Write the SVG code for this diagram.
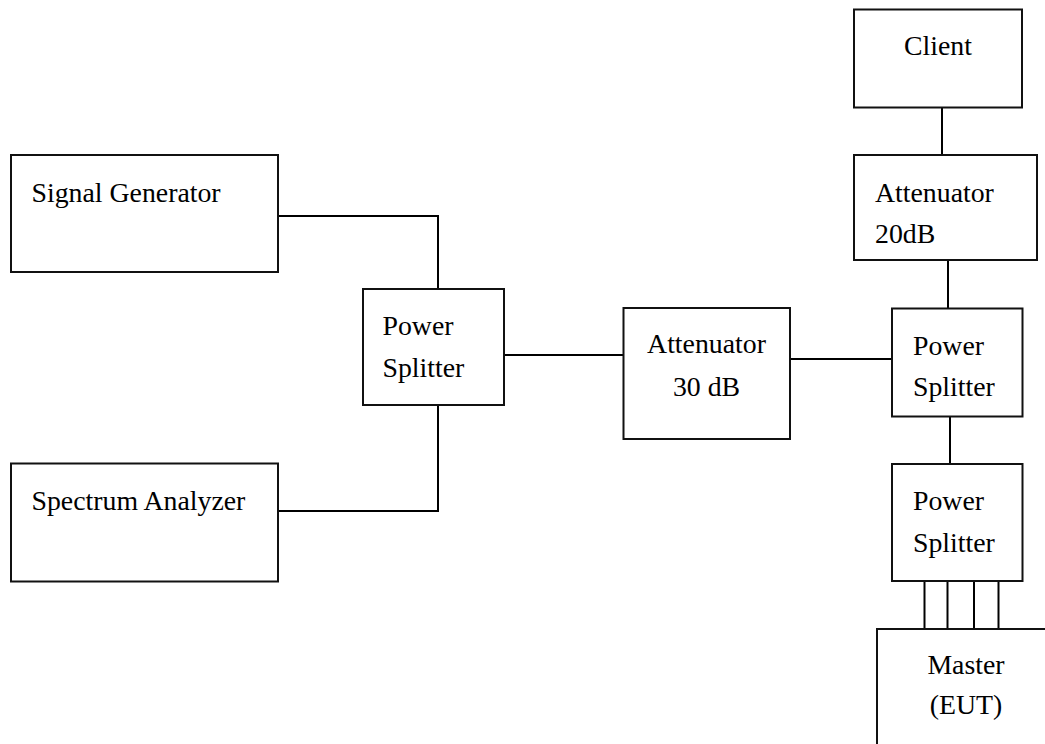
<svg xmlns="http://www.w3.org/2000/svg" width="1045" height="744" viewBox="0 0 1045 744">
<style>
.box{fill:#fff;stroke:#111;stroke-width:2}
.wire{fill:none;stroke:#000;stroke-width:2}
text{font-family:"Liberation Serif","Times New Roman",serif;font-size:27.8px;fill:#000}
.c{text-anchor:middle}
</style>
<rect width="1045" height="744" fill="#fff"/>
<g id="connectors">
<polyline class="wire" points="278,216 438,216 438,289"/>
<polyline class="wire" points="278,511 438,511 438,405"/>
<line class="wire" x1="504" y1="355" x2="623" y2="355"/>
<line class="wire" x1="790" y1="359" x2="892" y2="359"/>
<line class="wire" x1="942" y1="108" x2="942" y2="155"/>
<line class="wire" x1="948" y1="260" x2="948" y2="308"/>
<line class="wire" x1="950" y1="417" x2="950" y2="464"/>
<line class="wire" x1="924.5" y1="581" x2="924.5" y2="629"/>
<line class="wire" x1="947.5" y1="581" x2="947.5" y2="629"/>
<line class="wire" x1="974" y1="581" x2="974" y2="629"/>
<line class="wire" x1="998.5" y1="581" x2="998.5" y2="629"/>
</g>
<g id="signal-generator">
<rect class="box" x="11" y="155" width="267" height="117"/>
<text x="31.5" y="202">Signal Generator</text>
</g>
<g id="spectrum-analyzer">
<rect class="box" x="11" y="463.5" width="267" height="118"/>
<text x="31.5" y="509.5">Spectrum Analyzer</text>
</g>
<g id="power-splitter-1">
<rect class="box" x="363" y="289" width="141" height="116"/>
<text x="382.5" y="335">Power</text>
<text x="382.5" y="377">Splitter</text>
</g>
<g id="attenuator-30">
<rect class="box" x="623.5" y="308" width="166.5" height="131"/>
<text class="c" x="706.5" y="353">Attenuator</text>
<text class="c" x="706.5" y="396">30 dB</text>
</g>
<g id="client">
<rect class="box" x="854" y="9.5" width="168" height="98"/>
<text class="c" x="938" y="55">Client</text>
</g>
<g id="attenuator-20">
<rect class="box" x="854" y="155" width="183" height="105"/>
<text x="875" y="201.5">Attenuator</text>
<text x="875" y="242.5">20dB</text>
</g>
<g id="power-splitter-2">
<rect class="box" x="892" y="308.5" width="130.5" height="108"/>
<text x="913" y="355">Power</text>
<text x="913" y="396">Splitter</text>
</g>
<g id="power-splitter-3">
<rect class="box" x="892" y="464" width="130.5" height="117"/>
<text x="913" y="510">Power</text>
<text x="913" y="551.5">Splitter</text>
</g>
<g id="master">
<rect class="box" x="877" y="629" width="200" height="150"/>
<text class="c" x="966" y="673.5">Master</text>
<text class="c" x="966" y="714">(EUT)</text>
</g>
</svg>
